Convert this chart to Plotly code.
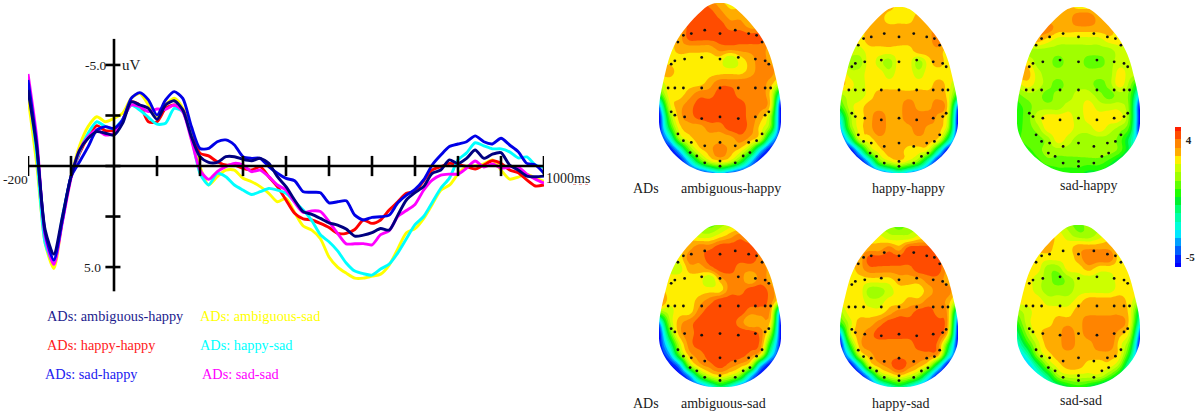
import numpy as np
import plotly.graph_objects as go

W, H = 1196, 414
FONT = "Liberation Serif"

# ---------- ERP data (uV, negative up) ----------
time_ms = list(range(-200, 1001, 20))
ambiguous_happy = [-3.76,-0.96,3.17,4.36,2.51,0.53,-0.79,-1.37,-1.70,-1.62,-1.53,-2.11,-3.18,-3.02,-2.85,-2.31,-3.02,-3.23,-2.77,-1.45,-0.46,-0.18,-0.18,-0.46,-0.46,-0.33,-0.26,-0.38,-0.13,0.53,1.02,1.68,2.26,2.39,2.59,2.81,2.92,3.12,3.47,3.42,3.30,3.09,3.17,2.43,1.68,1.32,1.02,0.36,0.20,-0.30,-0.13,-0.38,-0.79,-0.38,-0.59,-0.66,-0.05,0.20,0.50,0.53,0.50]
sad_happy = [-4.26,-1.12,3.33,4.65,2.67,0.53,-0.21,-0.96,-1.78,-1.95,-1.86,-2.28,-3.35,-3.63,-3.27,-2.52,-3.27,-3.68,-3.35,-1.95,-0.87,-0.87,-1.20,-1.29,-1.04,-0.46,-0.38,-0.38,0.03,0.36,0.61,0.73,1.27,1.30,1.32,1.82,1.77,1.72,2.43,2.67,2.54,2.51,2.43,1.82,1.44,1.16,0.69,-0.05,-0.54,-0.96,-1.09,-1.20,-1.49,-1.20,-1.09,-1.37,-1.04,-0.71,-0.13,-0.05,0.36]
happy_happy = [-4.0,-1.04,3.5,4.74,2.67,0.53,-0.63,-1.45,-2.0,-1.75,-1.78,-2.28,-3.18,-3.02,-2.19,-2.19,-2.85,-3.02,-2.77,-1.62,-0.63,-0.5,-0.21,-0.05,-0.05,0.12,0.2,0.03,0.53,1.02,1.68,2.34,2.62,2.67,2.84,3.04,3.33,3.33,3.14,2.67,2.84,2.67,2.18,1.77,1.35,1.27,0.73,0.2,0.03,-0.13,-0.08,0.03,0.15,-0.05,-0.26,-0.13,0.2,0.33,0.69,0.99,0.94]
ambiguous_sad = [-3.38,-0.13,3.83,5.07,2.67,0.53,-1.0,-1.96,-2.44,-2.19,-2.36,-2.61,-3.35,-3.6,-3.03,-2.47,-3.03,-3.35,-2.86,-1.62,0.03,0.94,0.53,0.2,0.2,0.61,0.78,1.02,1.35,1.77,1.6,2.3,2.97,3.17,3.6,4.5,5.0,5.3,5.55,5.55,5.45,5.35,4.9,4.1,3.3,3.1,2.6,1.9,1.2,0.95,0.4,0.0,0.0,-0.1,-0.3,0.2,0.65,0.55,0.4,0.6,0.75]
happy_sad = [-4.1,-0.63,3.83,4.8,2.51,0.53,-0.71,-1.62,-2.19,-1.95,-1.86,-2.31,-3.02,-2.77,-2.41,-2.07,-2.12,-2.85,-2.69,-1.45,0.36,0.94,0.36,0.53,0.94,1.19,1.41,1.27,1.11,1.19,1.35,1.77,2.18,2.7,3.4,3.75,4.2,4.8,5.2,5.33,5.4,5.1,4.85,4.3,3.6,2.9,2.5,1.8,1.1,0.6,-0.3,-0.65,-1.15,-1.0,-0.85,-0.85,-0.7,-0.4,-0.45,-0.05,0.05]
sad_sad = [-4.55,-1.45,3.5,4.88,2.77,0.61,-0.79,-1.45,-1.78,-1.53,-1.62,-2.28,-3.02,-2.94,-2.69,-2.82,-2.8,-3.02,-2.69,-1.29,0.2,0.66,0.28,0.03,-0.13,-0.05,0.28,0.2,0.53,0.94,1.19,1.8,2.3,2.22,2.25,2.75,3.33,3.85,3.85,3.84,3.9,3.4,3.2,2.5,2.2,1.9,1.2,0.7,0.45,0.4,0.4,0.1,-0.25,0.05,-0.1,0.1,0.05,0.05,0.4,0.65,0.85]

x_ticks = [-200,-100,100,200,300,400,500,600,700,800,900,1000]
y_ticks = [-5,-2.5,0,2.5,5]

series_order = [("ambiguous_sad", ambiguous_sad, "#ffff00"), ("happy_happy", happy_happy, "#ff0000"),
                ("happy_sad", happy_sad, "#00ffff"), ("sad_sad", sad_sad, "#ff00ff"),
                ("sad_happy", sad_happy, "#0000e6"), ("ambiguous_happy", ambiguous_happy, "#000080")]

# ---------- topographic maps: colour-band level (1 = blue ... 18 = red) on a 13 x 16 grid ----------
map_ambiguous_happy = [
[16,16,16,16,17,16,15,14,14,14,14,14,14],
[17,17,17,17,17,17,16,15,15,14,14,14,14],
[16,16,15,17,17,17,17,16,16,15,15,15,15],
[14,14,15,17,17,17,17,17,17,17,17,16,15],
[14,14,15,15,15,15,16,16,16,16,16,15,14],
[14,14,14,14,14,14,14,12.5,14,15,16,15,14],
[15,15,14,14,14,14,14,14,14,15,16,16,14],
[13,14,14,14,14,15,16,16,16,16,16,15,13],
[10,14,14,15,16,16,17,17,16,16,16,14,6],
[4,13,15,16,17,17,17,17,17,16,16,14,1],
[1,11,15,16,17,17,17,17,17,16,15,12,1],
[1,9,14,15,15,16,16,17,17,16,14,11,1],
[1,5,12,14,15,15,15,15,16,15,13,6,1],
[1,1,5,11,14,15,16.4,15,14,11,5,1,1],
[1,1,1,5,10,13,14,13,10,5,1,1,1],
[1,1,1,1,1,3,5,3,1,1,1,1,1]]
map_happy_happy = [
[15,15,15,15,15,15,14,14,14,15,15,15,15],
[15,15,15,15,15,14,14,14,15,15,15,15,15],
[14,14,14,15,15,15,15,15,15,15,16.4,15,15],
[14,14,14,15,15,15,15,15,15,15,16.4,15,15],
[13,13,13,14,14,14,14,14,15,15,15,14,14],
[12,12,12,14,13,12,14,14,12,14,15,14,14],
[15,13,13,14,14,13,14,14,13,14,14,14,14],
[15,14,13,14,14,14,14,14,14,14,15,14,12],
[12,13,13,14,15,15,15,15,15,15,15,14,9],
[10,13,14,15,15,15,15,16.4,15,15,16.4,14,3],
[6,12,14,15,16.4,15,15,16.4,16.4,16.4,15,13,1],
[4,11,14,15,16.4,15,15,15,16.4,15,15,12,1],
[1,7,13,14,15,15,15,15,15,15,14,8,1],
[1,1,6,12,14,15,15,14,14,13,7,1,1],
[1,1,1,5,11,13,14,13,11,6,1,1,1],
[1,1,1,1,2,4,6,4,2,1,1,1,1]]
map_sad_happy = [
[15,15,15,15,15,15,14,14,14,14,14,14,14],
[15,15,15,15,15,15,16.4,16.4,15,15,14,14,14],
[16,16,16,16,15,15,15,15,15,15,14,14,14],
[15,15,15,14,13,13,13,13,13,14,14,14,14],
[12,12,12,12,12,12,12,12,12,12,13,13,13],
[14,14,12,12,11,12,12,11,11,12,13,13,13],
[15,15,13,12,12,12,12,12,12,12,14,13,13],
[13,14,13,12,11,12,12,12,11,12,14,12,8],
[11,12,12,11,12,12,13,13,12,11,12,11,4],
[10,11,12,12,12,13,13,14,13,13,13,11,1],
[10,11,13,14,14,14,13,14,14,14,14,11,1],
[10,11,12,14,14,14,13,13,14,13,12,10,1],
[10,11,11,12,14,13,12,12,12,12,11,8,3],
[9,10,11,12,12,12,12,12,12,12,11,8,4],
[9,9,10,11,11,11,11,11,11,10,8,5,3],
[8,8,9,9,10,10,10,9,9,8,6,3,3]]
map_ambiguous_sad = [
[12,12,12,12,12,11,12,13,13,14,14,14,14],
[14,14,14,14,13,13,14,15,16,15,15,15,15],
[14,14,14,15,16,16,17,17,17,17,16,15,15],
[14,14,14,16,16,17,17,17,17,17,16,14,14],
[13,13,13,15,15,16,17,17,16,16,16,15,14],
[14,14,14,14,14,12.5,15,16,16,14.5,16,15,14],
[15,14,14,14,14,14,14,16,16,17,17,16,14],
[17,14,14,14,15,16,17,17,17,17,17,16,13],
[12,13,14,14,16,17,17,17,17,16,16,15,3],
[4,12,15,16,17,17,17,17,16,14.5,15,14,1],
[1,10,15,16,17,17,17,17,17,17,16,12,1],
[1,7,13,16,17,17,17,17,17,17,16,9,1],
[1,4,11,15,16,17,17,17,17,16,14,6,1],
[1,1,4,12,15,16,17,16,15,13,5,1,1],
[1,1,1,4,10,13,14,13,11,5,1,1,1],
[1,1,1,1,2,5,8,6,2,1,1,1,1]]
map_happy_sad = [
[13,13,13,13,12,12,11,12,12,13,13,13,13],
[14,14,14,14,14,13,13,13,14,14,14,14,14],
[15,15,15,15,15,16,15,17,17,17,16,15,15],
[15,15,15,17,17,17,17,17,17,17,17,15,15],
[14,14,15,16,16,16,16,16,17,17,17,15,15],
[14,14,14,14,14,14,15,15,15,16,16,15,15],
[14,14,14,12,12,13,14,14,14,15,16,16,14],
[14,14,14,13,13,14,14,15,15,16,16,15,12],
[12,14,14,14,14,15,16,16,17,17,16,15,5],
[10,13,15,15,16,17,17,17,17,17,17,15,2],
[4,13,15,16,17,17,17,17,17,17,17,14,1],
[1,10,15,16,16,16,16,16,17,17,16,10,1],
[1,6,13,15,16,16,16,16,16,16,15,7,1],
[1,1,6,13,15,16,17.5,16,15,13,7,1,1],
[1,1,1,5,11,13,14,13,11,6,1,1,1],
[1,1,1,1,3,6,8,6,3,1,1,1,1]]
map_sad_sad = [
[13,13,13,13,13,12,11,12,12,12,13,13,13],
[14,14,14,15,14,13,12,12,13,14,14,14,14],
[15,15,15,15,14,14,15,15,15,15,14,14,14],
[14,14,14,14,14,14,15,16.4,16.4,16.4,14,14,14],
[14,14,14,12,12,14,14,15,14,14,14,14,14],
[14,14,13,12,11,12,13,13,13,13,14,14,14],
[14,14,13,12,12,12,13,13,13,13,14,14,14],
[14,14,14,13,13,13,14,15,15,15,15,14,12],
[12,13,14,14,14,14,15,15,15,15,15,14,8],
[10,13,14,14,15,15,15,16.4,16.4,16.4,16.4,14,6],
[8,12,14,15,15,16.4,15,16.4,16.4,16.4,15,13,3],
[6,10,13,15,15,16.4,15,15,16.4,16.4,14,11,1],
[4,7,12,14,15,15,15,15,15,15,14,9,1],
[3,4,8,12,14,15,15,14,14,14,12,6,2],
[3,3,5,8,12,13,13,13,13,11,8,3,2],
[3,3,3,5,7,9,10,9,7,5,3,2,2]]

band_colors = ["#0000ff","#0020ff","#0060ff","#00a0ff","#00e8ff","#00ffd8","#00ffa8","#00ff70","#00f030",
               "#20ff00","#60ff00","#a0ff00","#ccff00","#ffee00","#ffac00","#ff8400","#ff4c00","#ff2000"]
BAND_UV, BAND_OFFSET = 0.6335, -6.40

electrode_x = [-.60,-.47,-.25,0,.25,.47,.60,-.69,.69,
               -.80,-.74,-.58,-.30,0,.30,.58,.74,.80,
               -.85,-.74,-.60,-.30,0,.30,.58,.74,.83,
               -.80,-.74,-.58,-.30,0,.30,.58,.74,.80,-.69,.69,
               -.60,-.47,-.25,0,.25,.47,.60,-.49,-.38,.38,.49,-.25,0,.25,0]
electrode_y = [.81,.82,.84,.82,.84,.82,.81,.77,.77,
               .64,.66,.67,.68,.67,.68,.67,.66,.64,
               .50,.50,.50,.50,.50,.50,.50,.50,.50,
               .36,.34,.33,.32,.33,.32,.33,.34,.36,.23,.23,
               .19,.18,.16,.18,.16,.18,.19,.12,.10,.10,.12,.06,.07,.06,.04]

egg_right = [(0,1),(.12,.995),(.25,.97),(.49,.885),(.69,.79),(.82,.69),(.906,.575),(.975,.46),(1,.38),(1,.30),
             (.97,.24),(.88,.17),(.72,.10),(.50,.04),(.25,.006),(0,0)]

# name, grid, left px, right px, top px, bottom px
maps = [("ambiguous-happy", map_ambiguous_happy, 659, 781, 3, 173),
        ("happy-happy", map_happy_happy, 840, 958, 7, 173),
        ("sad-happy", map_sad_happy, 1017, 1140, 7, 173),
        ("ambiguous-sad", map_ambiguous_sad, 659, 781, 225, 387),
        ("happy-sad", map_happy_sad, 840, 958, 227, 387),
        ("sad-sad", map_sad_sad, 1017, 1140, 225, 387)]

grid_x = [-1 + i / 6 for i in range(13)]
grid_y = [1 - r / 15 for r in range(16)]

FACTOR = 4

def cr_axis(a, axis):
    """Catmull-Rom refinement along one axis, so the band edges come out round."""
    a = np.moveaxis(a, axis, 0)
    n = a.shape[0]
    out = []
    for i in range(n - 1):
        p0, p1, p2, p3 = a[max(i - 1, 0)], a[i], a[i + 1], a[min(i + 2, n - 1)]
        for k in range(FACTOR):
            t = k / FACTOR
            out.append(0.5 * (2 * p1 + (p2 - p0) * t + (2 * p0 - 5 * p1 + 4 * p2 - p3) * t ** 2
                              + (3 * p1 - p0 - 3 * p2 + p3) * t ** 3))
    out.append(a[-1])
    return np.moveaxis(np.array(out), 0, axis)

def refine(values):
    return cr_axis(np.array(values, dtype=float)[None, :], 1)[0]

fine_x, fine_y = refine(grid_x), refine(grid_y)

def egg_path():
    pts = np.array(egg_right + [(-x, y) for x, y in reversed(egg_right[1:-1])], dtype=float)
    closed = np.vstack([pts[-1], pts, pts[0], pts[1]])
    out = []
    for i in range(1, len(closed) - 2):
        p0, p1, p2, p3 = closed[i - 1], closed[i], closed[i + 1], closed[i + 2]
        for k in range(FACTOR):
            t = k / FACTOR
            out.append(0.5 * (2 * p1 + (p2 - p0) * t + (2 * p0 - 5 * p1 + 4 * p2 - p3) * t ** 2
                              + (3 * p1 - p0 - 3 * p2 + p3) * t ** 3))
    return "M -1.2 -0.2 L 1.2 -0.2 L 1.2 1.2 L -1.2 1.2 Z M " + " L ".join(f"{x:.4f} {y:.4f}" for x, y in out) + " Z"

fx = lambda px: px / W
fy = lambda py: 1 - py / H

fig = go.Figure()
shapes = []
annotations = []

def text(s, px, py, color="#1a1a1a", size=14, anchor="left"):
    annotations.append(dict(text=s, x=fx(px - 2), y=fy(py), xref="paper", yref="paper", showarrow=False,
                            xanchor=anchor, yanchor="middle",
                            font=dict(family=FONT, size=size, color=color)))

# ERP panel
layout_axes = dict(
    xaxis=dict(domain=[fx(28), fx(544)], range=[-200, 1000], visible=False, anchor="y"),
    yaxis=dict(domain=[fy(300), fy(30)], range=[6.63, -6.73], visible=False, anchor="x"),
)
axis_style = dict(type="line", xref="x", yref="y", line=dict(color="black", width=2.6))
shapes.append(dict(x0=-200, x1=1000, y0=0, y1=0, **axis_style))
shapes.append(dict(x0=0, x1=0, y0=-6.29, y1=6.2, **axis_style))
for t in x_ticks:
    shapes.append(dict(x0=t, x1=t, y0=-0.5, y1=0.5, **axis_style))
for v in y_ticks:
    shapes.append(dict(x0=-20, x1=15, y0=v, y1=v, **axis_style))
shapes.append(dict(type="line", xref="paper", yref="paper", x0=fx(573), x1=fx(589), y0=fy(184.5), y1=fy(184.5),
                   line=dict(color="#eda0a0", width=1, dash="dot")))

for name, vals, col in series_order:
    fig.add_trace(go.Scatter(x=time_ms, y=vals, mode="lines", name=name, cliponaxis=False, showlegend=False,
                             line=dict(color=col, width=2.9, shape="spline", smoothing=0.7),
                             xaxis="x", yaxis="y", hoverinfo="skip"))

text("-5.0", 85, 65, size=13.5); text("uV", 122, 65, size=15)
text("-200", 3, 180, size=13.5); text("5.0", 84, 267, size=13.5); text("1000ms", 546, 178)
legend_items = [("ADs: ambiguous-happy", 47, 316, "#1c1c8e"), ("ADs: happy-happy", 47, 345, "#ff1a1a"),
                ("ADs: sad-happy", 45, 374, "#2020f0"), ("ADs: ambiguous-sad", 200, 316, "#ffff00"),
                ("ADs: happy-sad", 200, 345, "#00ffff"), ("ADs: sad-sad", 202, 374, "#ff00ff")]
for s, px, py, c in legend_items:
    text(s, px, py, color=c, size=14.3)

# topographic maps
colorscale = [[i / 17, c] for i, c in enumerate(band_colors)]
for idx, (name, grid, left, right, top, bottom) in enumerate(maps):
    n = idx + 2
    xa, ya = f"x{n}", f"y{n}"
    layout_axes[f"xaxis{n}"] = dict(domain=[fx(left), fx(right)], range=[-1, 1], visible=False, anchor=ya)
    layout_axes[f"yaxis{n}"] = dict(domain=[fy(bottom), fy(top)], range=[0, 1], visible=False, anchor=xa)
    coarse = np.array(grid, dtype=float)
    fine = np.clip(cr_axis(cr_axis(coarse, 0), 1), coarse.min(), coarse.max()) * BAND_UV + BAND_OFFSET
    fig.add_trace(go.Contour(
        x=fine_x, y=fine_y, z=fine, xaxis=xa, yaxis=ya, colorscale=colorscale, hoverinfo="skip",
        contours=dict(coloring="fill", showlines=False, start=1.5 * BAND_UV + BAND_OFFSET,
                      end=17.5 * BAND_UV + BAND_OFFSET, size=BAND_UV),
        line=dict(width=0, smoothing=1.0),
        showscale=(idx == 0),
        colorbar=dict(x=fx(1175), xanchor="left", xpad=0, y=fy(197), yanchor="middle", ypad=0,
                      len=140, lenmode="pixels", thickness=5.5, thicknessmode="pixels", outlinewidth=0,
                      tickmode="array", tickvals=[4, -5], ticktext=["<b>4</b>", "<b>-5</b>"],
                      ticks="outside", ticklen=3, tickcolor="white",
                      tickfont=dict(family=FONT, size=11, color="#222222"))))
    shapes.append(dict(type="path", path=egg_path(), xref=xa, yref=ya, fillcolor="white", line=dict(width=0),
                       fillrule="evenodd", layer="above"))
    fig.add_trace(go.Scatter(x=electrode_x, y=electrode_y, mode="markers", xaxis=xa, yaxis=ya, showlegend=False,
                             marker=dict(color="#111111", size=2.8), hoverinfo="skip"))

label_x = [681, 872, 1060, 681, 872, 1060]
label_y = [188, 188, 185, 403, 403, 400]
for (name, *_), px, py in zip(maps, label_x, label_y):
    text(name, px, py, size=14)
text("ADs", 633, 188); text("ADs", 633, 403)

fig.update_layout(width=W, height=H, margin=dict(l=0, r=0, t=0, b=0), paper_bgcolor="white", plot_bgcolor="white",
                  showlegend=False, shapes=shapes, annotations=annotations, **layout_axes)

fig.write_html("out.html", config={"displayModeBar": False}, post_script="document.body.style.margin='0';")
